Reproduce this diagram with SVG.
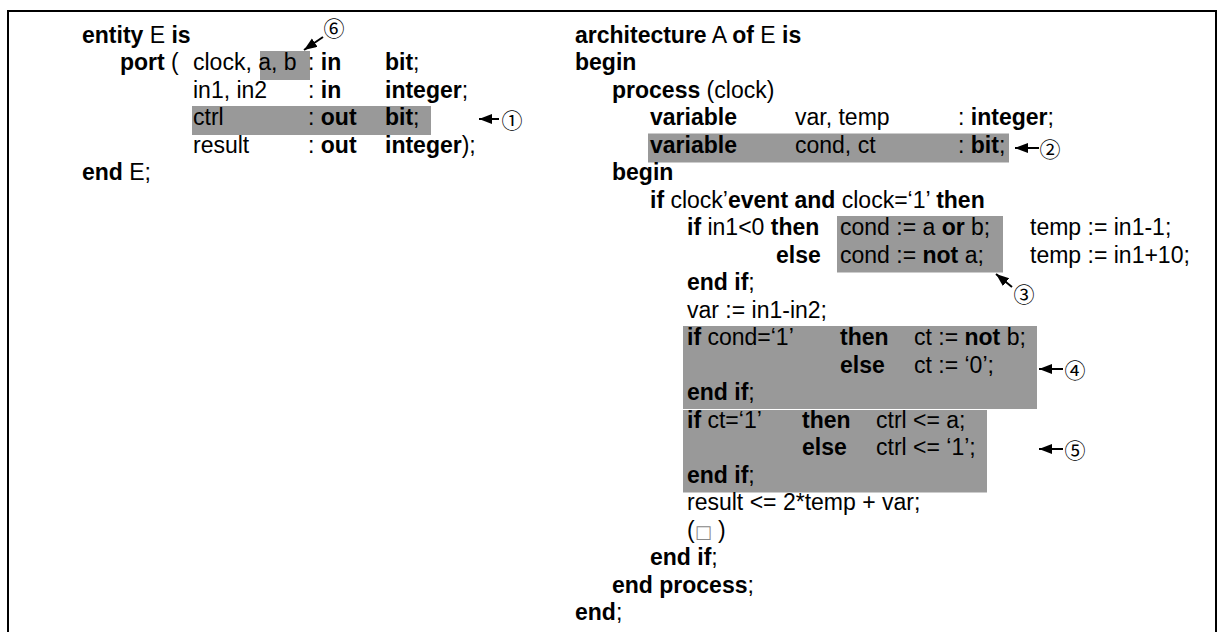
<svg xmlns="http://www.w3.org/2000/svg" width="1219" height="632" viewBox="0 0 1219 632" xml:space="preserve">
<style>
text { font-family: "Liberation Sans", Arial, sans-serif; font-size: 23px; fill: #000; }
.b { font-weight: bold; }
.hl { fill: #999999; }
.num { font-family: "Noto Sans CJK JP", "DejaVu Sans", sans-serif; font-size: 21px; text-anchor: middle; dominant-baseline: central; }
.arr { stroke: #000; stroke-width: 2; fill: none; marker-end: url(#ah); }
.tofu { fill: #888888; font-family: "DejaVu Sans", sans-serif; font-size: 18px; }
</style>
<defs>
<marker id="ah" markerUnits="userSpaceOnUse" markerWidth="14" markerHeight="11" refX="13" refY="5" orient="auto">
<path d="M0,0 L13,5 L0,10 Z" fill="#000"/>
</marker>
</defs>
<rect width="1219" height="632" fill="#fff"/>
<path id="frame" d="M8,633 V11 H1216 V633" fill="none" stroke="#000" stroke-width="2"/>
<g id="highlights">
<rect id="hl-ab" class="hl" x="260" y="51" width="50" height="29"/>
<rect id="hl-ctrl" class="hl" x="192" y="106" width="239" height="29"/>
<rect id="hl-var" class="hl" x="648" y="133.5" width="361" height="29"/>
<rect id="hl-cond" class="hl" x="837" y="216" width="166" height="56.5"/>
<rect id="hl-ifcond" class="hl" x="683" y="326" width="354" height="83"/>
<rect id="hl-ifct" class="hl" x="683" y="410" width="304" height="82.5"/>
</g>
<g id="entity">
<text x="82" y="42.5"><tspan class="b">entity</tspan> E <tspan class="b">is</tspan></text>
<text x="120" y="70"><tspan class="b">port</tspan> (</text>
<text x="193" y="70">clock, a, b</text>
<text x="308" y="70">: <tspan class="b">in</tspan></text>
<text x="385" y="70"><tspan class="b">bit</tspan>;</text>
<text x="193" y="97.5">in1, in2</text>
<text x="308" y="97.5">: <tspan class="b">in</tspan></text>
<text x="385" y="97.5"><tspan class="b">integer</tspan>;</text>
<text x="193" y="125">ctrl</text>
<text x="308" y="125">: <tspan class="b">out</tspan></text>
<text x="385" y="125"><tspan class="b">bit</tspan>;</text>
<text x="193" y="152.5">result</text>
<text x="308" y="152.5">: <tspan class="b">out</tspan></text>
<text x="385" y="152.5"><tspan class="b">integer</tspan>);</text>
<text x="82" y="180"><tspan class="b">end</tspan> E;</text>
</g>
<g id="architecture">
<text x="575" y="42.5"><tspan class="b">architecture</tspan> A <tspan class="b">of</tspan> E <tspan class="b">is</tspan></text>
<text x="575" y="70" class="b">begin</text>
<text x="612" y="97.5"><tspan class="b">process</tspan> (clock)</text>
<text x="650" y="125" class="b">variable</text>
<text x="795" y="125">var, temp</text>
<text x="958" y="125">: <tspan class="b">integer</tspan>;</text>
<text x="650" y="152.5" class="b">variable</text>
<text x="795" y="152.5">cond, ct</text>
<text x="958" y="152.5">: <tspan class="b">bit</tspan>;</text>
<text x="612" y="180" class="b">begin</text>
<text x="650" y="207.5"><tspan class="b">if</tspan> clock’<tspan class="b">event and</tspan> clock=‘1’ <tspan class="b">then</tspan></text>
<text x="687" y="235"><tspan class="b">if</tspan> in1&lt;0 <tspan class="b">then</tspan></text>
<text x="840" y="235">cond := a <tspan class="b">or</tspan> b;</text>
<text x="1030" y="235">temp := in1-1;</text>
<text x="776" y="262.5" class="b">else</text>
<text x="840" y="262.5">cond := <tspan class="b">not</tspan> a;</text>
<text x="1030" y="262.5">temp := in1+10;</text>
<text x="687" y="290"><tspan class="b">end if</tspan>;</text>
<text x="687" y="317.5">var := in1-in2;</text>
<text x="687" y="345"><tspan class="b">if</tspan> cond=‘1’</text>
<text x="840" y="345" class="b">then</text>
<text x="914" y="345">ct := <tspan class="b">not</tspan> b;</text>
<text x="840" y="372.5" class="b">else</text>
<text x="914" y="372.5">ct := ‘0’;</text>
<text x="687" y="400"><tspan class="b">end if</tspan>;</text>
<text x="687" y="427.5"><tspan class="b">if</tspan> ct=‘1’</text>
<text x="802" y="427.5" class="b">then</text>
<text x="876" y="427.5">ctrl &lt;= a;</text>
<text x="802" y="455" class="b">else</text>
<text x="876" y="455">ctrl &lt;= ‘1’;</text>
<text x="687" y="482.5"><tspan class="b">end if</tspan>;</text>
<text x="687" y="510">result &lt;= 2*temp + var;</text>
<text x="687" y="537.5">(<tspan class="tofu">□</tspan> )</text>
<text x="650" y="565"><tspan class="b">end if</tspan>;</text>
<text x="612" y="592.5"><tspan class="b">end process</tspan>;</text>
<text x="575" y="620"><tspan class="b">end</tspan>;</text>
</g>
<g id="connectors">
<line class="arr" x1="499" y1="119" x2="479" y2="119"/>
<line class="arr" x1="1039" y1="148" x2="1015" y2="148"/>
<line class="arr" x1="1012" y1="287" x2="996" y2="274"/>
<line class="arr" x1="1063" y1="369" x2="1039" y2="369"/>
<line class="arr" x1="1063" y1="449" x2="1039" y2="449"/>
<line class="arr" x1="323" y1="37" x2="304" y2="50"/>
</g>
<g id="callout-1"><text class="num" x="512" y="119">①</text></g>
<g id="callout-2"><text class="num" x="1050" y="148">②</text></g>
<g id="callout-3"><text class="num" x="1024" y="293">③</text></g>
<g id="callout-4"><text class="num" x="1075" y="369">④</text></g>
<g id="callout-5"><text class="num" x="1075" y="449">⑤</text></g>
<g id="callout-6"><text class="num" x="334" y="27">⑥</text></g>
</svg>
